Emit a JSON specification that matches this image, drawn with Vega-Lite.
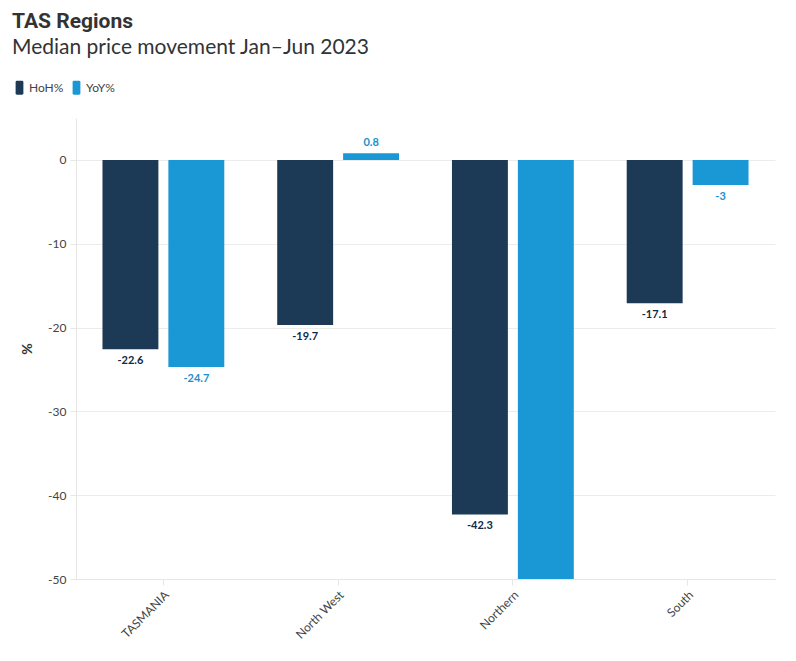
{
  "$schema": "https://vega.github.io/schema/vega-lite/v6.json",
  "width": 699,
  "height": 461,
  "padding": {"left": 12, "top": 11, "right": 21, "bottom": 5},
  "background": "white",
  "title": {
    "text": "TAS Regions",
    "subtitle": "Median price movement Jan–Jun 2023",
    "anchor": "start",
    "frame": "bounds",
    "font": "Roboto",
    "fontSize": 21,
    "fontWeight": "bold",
    "color": "#333333",
    "subtitleFont": "Lato",
    "subtitleFontSize": 21,
    "subtitleColor": "#333333",
    "subtitlePadding": 5,
    "offset": 22
  },
  "config": {
    "font": "Lato",
    "view": {"stroke": null},
    "locale": {"number": {"decimal": ".", "thousands": ",", "grouping": [3], "currency": ["$", ""], "minus": "-"}}
  },
  "data": {
    "values": [
      {"region": "TASMANIA", "measure": "HoH%", "value": -22.6},
      {"region": "TASMANIA", "measure": "YoY%", "value": -24.7},
      {"region": "North West", "measure": "HoH%", "value": -19.7},
      {"region": "North West", "measure": "YoY%", "value": 0.8},
      {"region": "Northern", "measure": "HoH%", "value": -42.3},
      {"region": "Northern", "measure": "YoY%", "value": -54.5},
      {"region": "South", "measure": "HoH%", "value": -17.1},
      {"region": "South", "measure": "YoY%", "value": -3}
    ]
  },
  "encoding": {
    "x": {
      "field": "region",
      "type": "nominal",
      "sort": ["TASMANIA", "North West", "Northern", "South"],
      "scale": {"paddingInner": 0, "paddingOuter": 0},
      "axis": {
        "title": null,
        "labelAngle": -45,
        "labelFontSize": 12,
        "labelColor": "#444444",
        "labelFont": "Lato",
        "domainColor": "#e6e6e6",
        "tickColor": "#e6e6e6",
        "tickSize": 6,
        "labelPadding": 4,
        "grid": false
      }
    },
    "xOffset": {
      "field": "measure",
      "type": "nominal",
      "scale": {"paddingInner": 0.1515, "paddingOuter": 0.4015}
    },
    "y": {
      "field": "value",
      "type": "quantitative",
      "scale": {"domain": [-50, 5], "nice": false, "zero": false},
      "axis": {
        "title": "%",
        "titleFontSize": 14,
        "titleFontWeight": "bold",
        "titleColor": "#333333",
        "titleX": -42,
        "values": [0, -10, -20, -30, -40, -50],
        "labelFontSize": 12,
        "labelColor": "#444444",
        "gridColor": "#ececec",
        "domainColor": "#e6e6e6",
        "tickColor": "#e6e6e6",
        "tickSize": 6,
        "labelPadding": 4
      }
    }
  },
  "layer": [
    {
      "mark": {"type": "bar", "clip": true},
      "encoding": {
        "color": {
          "field": "measure",
          "type": "nominal",
          "scale": {"domain": ["HoH%", "YoY%"], "range": ["#1c3a56", "#1a97d5"]},
          "legend": {
            "title": null,
            "orient": "none",
            "legendX": -64,
            "legendY": -38,
            "direction": "horizontal",
            "symbolType": "M-0.55,-0.8Q-0.55,-1 -0.35,-1H0.35Q0.55,-1 0.55,-0.8V0.8Q0.55,1 0.35,1H-0.35Q-0.55,1 -0.55,0.8Z",
            "symbolSize": 200,
            "symbolStrokeWidth": 0,
            "labelFontSize": 12,
            "labelColor": "#444444",
            "columnPadding": 5,
            "labelOffset": 2
          }
        }
      }
    },
    {
      "transform": [{"filter": "datum.value < 0"}],
      "mark": {"type": "text", "baseline": "top", "dy": 6, "fontSize": 11, "fontWeight": "bold", "clip": true},
      "encoding": {
        "text": {"field": "value", "type": "nominal"},
        "color": {
          "field": "measure",
          "type": "nominal",
          "scale": {"domain": ["HoH%", "YoY%"], "range": ["#0d2a47", "#1a8fce"]},
          "legend": null
        }
      }
    },
    {
      "transform": [{"filter": "datum.value >= 0"}],
      "mark": {"type": "text", "baseline": "bottom", "dy": -5, "fontSize": 11, "fontWeight": "bold", "clip": true},
      "encoding": {
        "text": {"field": "value", "type": "nominal"},
        "color": {
          "field": "measure",
          "type": "nominal",
          "scale": {"domain": ["HoH%", "YoY%"], "range": ["#0d2a47", "#1a8fce"]},
          "legend": null
        }
      }
    }
  ],
  "resolve": {"scale": {"color": "independent"}}
}
